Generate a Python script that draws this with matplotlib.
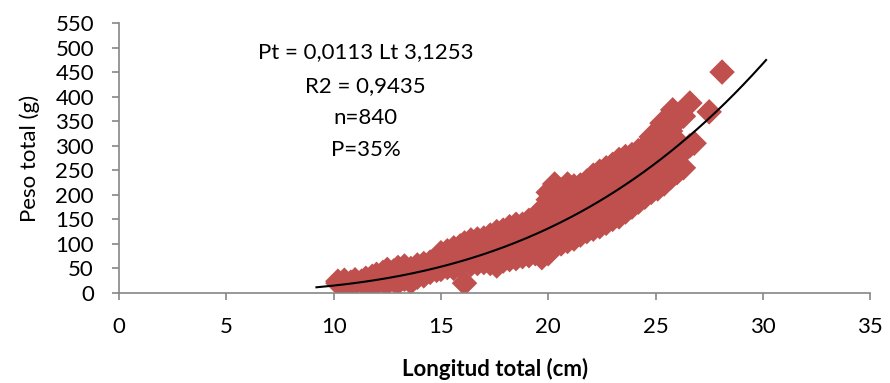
import numpy as np
import matplotlib
matplotlib.use("Agg")
import matplotlib.pyplot as plt

# Longitud total (cm) vs peso total (g)
longitud = [
    10.2, 10.2, 10.5, 10.5, 10.8, 11.0, 11.0, 11.3, 11.5, 11.5, 11.8, 11.8,
    12.0, 12.0, 12.0, 12.3, 12.3, 12.5, 12.5, 12.5, 12.8, 12.8,
    13.0, 13.0, 13.0, 13.3, 13.3, 13.3, 13.6, 13.6, 13.6, 13.9, 13.9, 13.9,
    14.2, 14.2, 14.2, 14.5, 14.5, 14.5, 14.8, 14.8, 14.8,
    15.0, 15.0, 15.0, 15.3, 15.3, 15.3, 15.6, 15.6, 15.6, 15.6, 15.9, 15.9, 15.9,
    16.1, 16.1, 16.1, 16.1, 16.4, 16.4, 16.4, 16.4, 16.7, 16.7, 16.7, 16.7,
    17.0, 17.0, 17.0, 17.0, 17.3, 17.3, 17.3, 17.3, 17.6, 17.6, 17.6, 17.6, 17.6,
    17.9, 17.9, 17.9, 17.9, 18.2, 18.2, 18.2, 18.2, 18.2, 18.5, 18.5, 18.5, 18.5, 18.5,
    18.8, 18.8, 18.8, 18.8, 19.1, 19.1, 19.1, 19.1, 19.4, 19.4, 19.4, 19.4,
    19.7, 19.7, 19.7, 19.7, 19.7, 20.0, 20.0, 20.0, 20.0, 20.0, 20.0,
    20.3, 20.3, 20.3, 20.3, 20.3, 20.6, 20.6, 20.6, 20.6, 20.6,
    20.9, 20.9, 20.9, 20.9, 20.9, 21.2, 21.2, 21.2, 21.2, 21.2,
    21.5, 21.5, 21.5, 21.5, 21.5, 21.8, 21.8, 21.8, 21.8, 21.8,
    22.1, 22.1, 22.1, 22.1, 22.1, 22.4, 22.4, 22.4, 22.4, 22.4,
    22.7, 22.7, 22.7, 22.7, 22.7, 23.0, 23.0, 23.0, 23.0, 23.0,
    23.3, 23.3, 23.3, 23.3, 23.3, 23.6, 23.6, 23.6, 23.6, 23.6,
    23.9, 23.9, 23.9, 23.9, 23.9, 24.2, 24.2, 24.2, 24.2, 24.2,
    24.5, 24.5, 24.5, 24.5, 24.5, 24.8, 24.8, 24.8, 24.8, 24.8,
    25.1, 25.1, 25.1, 25.1, 25.1, 25.3, 25.4, 25.4, 25.4, 25.4,
    25.7, 25.7, 25.7, 25.7, 25.8, 26.0, 26.0, 26.0, 26.0,
    26.3, 26.3, 26.3, 26.6, 26.6, 26.8, 27.5, 28.1,
]
peso = [
    20, 24, 18, 26, 22, 19, 27, 24, 18, 30, 22, 34,
    19, 28, 38, 24, 42, 20, 33, 48, 26, 45,
    21, 36, 52, 28, 44, 55, 22, 38, 50, 32, 47, 57,
    35, 52, 60, 42, 55, 63, 46, 60, 72,
    48, 66, 82, 52, 70, 86, 50, 62, 78, 92, 55, 72, 96,
    20, 65, 85, 102, 58, 75, 92, 108, 60, 80, 98, 110,
    62, 78, 95, 112, 60, 85, 104, 118, 55, 72, 92, 112, 125,
    65, 88, 106, 128, 68, 84, 100, 120, 135, 70, 92, 112, 132, 140,
    74, 98, 118, 140, 76, 95, 125, 148, 80, 105, 130, 155,
    72, 100, 122, 145, 170, 80, 110, 135, 160, 190, 205,
    95, 120, 150, 175, 222, 100, 128, 155, 185, 210,
    105, 135, 165, 195, 222, 110, 140, 170, 200, 218,
    118, 148, 178, 205, 220, 125, 155, 185, 212, 228,
    130, 162, 192, 220, 240, 135, 170, 200, 228, 248,
    142, 175, 208, 238, 255, 150, 182, 215, 245, 262,
    155, 190, 222, 250, 272, 165, 198, 232, 260, 278,
    175, 205, 240, 268, 282, 185, 215, 248, 275, 290,
    195, 225, 258, 285, 298, 205, 235, 270, 300, 318,
    212, 245, 280, 310, 328, 346, 222, 255, 290, 320,
    235, 265, 298, 330, 373, 245, 275, 310, 350,
    255, 290, 360, 387, 300, 305, 369, 450,
]

# potential trendline Pt = a * Lt^b, as printed on the chart
coef_a = 0.0113
coef_b = 3.1253
linea_desde, linea_hasta = 9.2, 30.15

textos = ["Pt = 0,0113 Lt 3,1253", "R2 = 0,9435", "n=840", "P=35%"]
textos_y = [491, 421, 356, 291]

plt.rcParams['font.family'] = ['Lato', 'DejaVu Sans']
fs = 16

fig = plt.figure(figsize=(8.9, 3.83), dpi=100)
ax = fig.add_axes([0.1337, 0.235, 0.844, 0.705])

ax.scatter(longitud, peso, marker='D', s=13 ** 2, color='#C0504D',
           edgecolors='none', zorder=2)

xs = np.linspace(linea_desde, linea_hasta, 200)
ax.plot(xs, coef_a * xs ** coef_b, color='black', lw=1.5, zorder=3)

for t, ty in zip(textos, textos_y):
    ax.text(11.5, ty, t, ha='center', va='center', fontsize=fs)

ax.set_xlim(0, 35)
ax.set_ylim(0, 550)
ax.set_xticks(range(0, 36, 5))
ax.set_yticks(range(0, 551, 50))

for s in ['top', 'right']:
    ax.spines[s].set_visible(False)
for s in ['left', 'bottom']:
    ax.spines[s].set_color('#868686')
    ax.spines[s].set_linewidth(1.2)

ax.tick_params(axis='x', direction='out', length=5, width=1.2, color='#868686',
               pad=12, labelsize=fs)
ax.tick_params(axis='y', direction='out', length=5, width=1.2, color='#868686',
               pad=13, labelsize=fs)

ax.set_ylabel('Peso total (g)', fontsize=fs, labelpad=11)
ax.set_xlabel('Longitud total (cm)', fontsize=fs, fontweight='bold', labelpad=15)

fig.savefig('out.png', dpi=100)
